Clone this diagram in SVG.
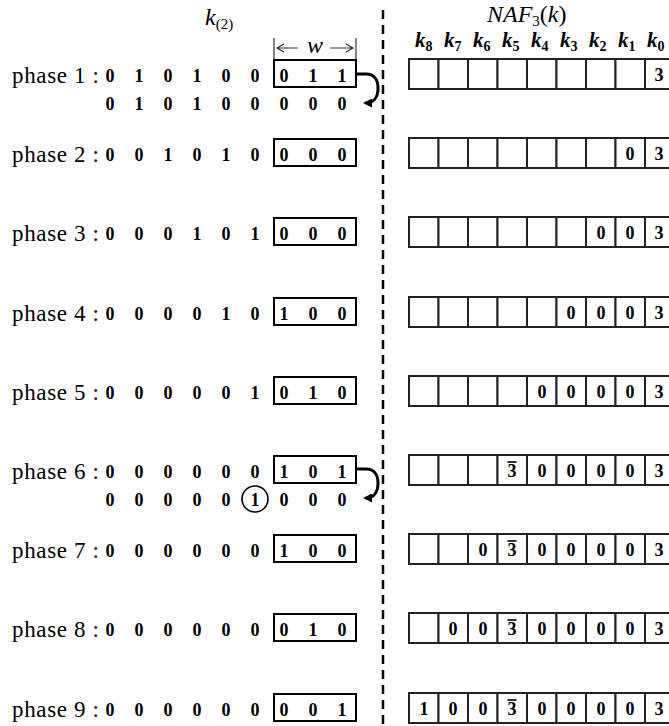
<svg xmlns="http://www.w3.org/2000/svg" width="669" height="726" viewBox="0 0 669 726">
<style>
.lbl{font-family:"Liberation Serif","Times New Roman",serif;font-size:23px;fill:#000}
.d{font-family:"Liberation Serif","Times New Roman",serif;font-size:18px;font-weight:bold;fill:#000;text-anchor:middle}
.box{fill:none;stroke:#000;stroke-width:2}
.cell{fill:#fff;stroke:#222;stroke-width:2}
.kl{font-family:"Liberation Serif","Times New Roman",serif;font-size:21px;font-weight:bold;font-style:italic;fill:#000}
.ks{font-size:14px;font-style:normal}
.hdr{font-family:"Liberation Serif","Times New Roman",serif;font-size:24px;font-style:italic;fill:#000}
.bar{stroke:#000;stroke-width:1.6}
.thin{stroke:#333;stroke-width:1.2;fill:none}
</style>
<defs>
<marker id="ah" markerWidth="3" markerHeight="3" refX="4" refY="3" orient="auto" markerUnits="strokeWidth" viewBox="0 0 6 6">
<path d="M0,0 L6,3 L0,6 z" fill="#000"/>
</marker>
</defs>
<rect width="669" height="726" fill="#fff"/>

<g id="headers">
<text class="hdr" x="205" y="25">k<tspan font-size="15" font-style="normal" dy="4">(2)</tspan></text>
<text class="hdr" x="487" y="22" font-size="23">NAF<tspan font-size="15" font-style="normal" dy="4">3</tspan><tspan dy="-4" font-style="normal">(</tspan>k<tspan font-style="normal">)</tspan></text>
<g id="klabels">
<text class="kl" x="415" y="47">k<tspan class="ks" dy="4">8</tspan></text>
<text class="kl" x="444" y="47">k<tspan class="ks" dy="4">7</tspan></text>
<text class="kl" x="473" y="47">k<tspan class="ks" dy="4">6</tspan></text>
<text class="kl" x="502" y="47">k<tspan class="ks" dy="4">5</tspan></text>
<text class="kl" x="531" y="47">k<tspan class="ks" dy="4">4</tspan></text>
<text class="kl" x="560" y="47">k<tspan class="ks" dy="4">3</tspan></text>
<text class="kl" x="589" y="47">k<tspan class="ks" dy="4">2</tspan></text>
<text class="kl" x="618" y="47">k<tspan class="ks" dy="4">1</tspan></text>
<text class="kl" x="647" y="47">k<tspan class="ks" dy="4">0</tspan></text>
</g>
<g id="wbracket">
<line class="thin" x1="274" y1="38" x2="274" y2="60" stroke="#777"/>
<line class="thin" x1="356" y1="38" x2="356" y2="60" stroke="#777"/>
<path class="thin" d="M298,48 H277 M284,44 L277,48 L284,52"/>
<path class="thin" d="M330,48 H353 M346,44 L353,48 L346,52"/>
<text class="hdr" x="315" y="53" font-size="20" text-anchor="middle">w</text>
</g>
</g>

<g id="divider">
<line x1="383" y1="10" x2="383" y2="726" stroke="#000" stroke-width="2.5" stroke-dasharray="9 6"/>
</g>

<g id="phase1">
<text class="lbl" x="12" y="83" textLength="87">phase 1 :</text>
<text class="d" y="82"><tspan x="110">0</tspan><tspan x="139">1</tspan><tspan x="168">0</tspan><tspan x="197">1</tspan><tspan x="226">0</tspan><tspan x="255">0</tspan><tspan x="284">0</tspan><tspan x="313">1</tspan><tspan x="342">1</tspan></text>
<rect class="box" x="274" y="60" width="82" height="27"/>
<text class="d" y="110"><tspan x="110">0</tspan><tspan x="139">1</tspan><tspan x="168">0</tspan><tspan x="197">1</tspan><tspan x="226">0</tspan><tspan x="255">0</tspan><tspan x="284">0</tspan><tspan x="313">0</tspan><tspan x="342">0</tspan></text>
</g>

<g id="phase2">
<text class="lbl" x="12" y="162" textLength="87">phase 2 :</text>
<text class="d" y="161"><tspan x="110">0</tspan><tspan x="139">0</tspan><tspan x="168">1</tspan><tspan x="197">0</tspan><tspan x="226">1</tspan><tspan x="255">0</tspan><tspan x="284">0</tspan><tspan x="313">0</tspan><tspan x="342">0</tspan></text>
<rect class="box" x="274" y="139" width="82" height="27"/>
</g>

<g id="phase3">
<text class="lbl" x="12" y="241" textLength="87">phase 3 :</text>
<text class="d" y="240"><tspan x="110">0</tspan><tspan x="139">0</tspan><tspan x="168">0</tspan><tspan x="197">1</tspan><tspan x="226">0</tspan><tspan x="255">1</tspan><tspan x="284">0</tspan><tspan x="313">0</tspan><tspan x="342">0</tspan></text>
<rect class="box" x="274" y="218" width="82" height="27"/>
</g>

<g id="phase4">
<text class="lbl" x="12" y="321" textLength="87">phase 4 :</text>
<text class="d" y="320"><tspan x="110">0</tspan><tspan x="139">0</tspan><tspan x="168">0</tspan><tspan x="197">0</tspan><tspan x="226">1</tspan><tspan x="255">0</tspan><tspan x="284">1</tspan><tspan x="313">0</tspan><tspan x="342">0</tspan></text>
<rect class="box" x="274" y="298" width="82" height="27"/>
</g>

<g id="phase5">
<text class="lbl" x="12" y="400" textLength="87">phase 5 :</text>
<text class="d" y="399"><tspan x="110">0</tspan><tspan x="139">0</tspan><tspan x="168">0</tspan><tspan x="197">0</tspan><tspan x="226">0</tspan><tspan x="255">1</tspan><tspan x="284">0</tspan><tspan x="313">1</tspan><tspan x="342">0</tspan></text>
<rect class="box" x="274" y="377" width="82" height="27"/>
</g>

<g id="phase6">
<text class="lbl" x="12" y="479" textLength="87">phase 6 :</text>
<text class="d" y="478"><tspan x="110">0</tspan><tspan x="139">0</tspan><tspan x="168">0</tspan><tspan x="197">0</tspan><tspan x="226">0</tspan><tspan x="255">0</tspan><tspan x="284">1</tspan><tspan x="313">0</tspan><tspan x="342">1</tspan></text>
<rect class="box" x="274" y="456" width="82" height="27"/>
<text class="d" y="506"><tspan x="110">0</tspan><tspan x="139">0</tspan><tspan x="168">0</tspan><tspan x="197">0</tspan><tspan x="226">0</tspan><tspan x="255">1</tspan><tspan x="284">0</tspan><tspan x="313">0</tspan><tspan x="342">0</tspan></text>
<circle cx="255" cy="499" r="13" fill="none" stroke="#000" stroke-width="1.6"/>
</g>

<g id="phase7">
<text class="lbl" x="12" y="558" textLength="87">phase 7 :</text>
<text class="d" y="557"><tspan x="110">0</tspan><tspan x="139">0</tspan><tspan x="168">0</tspan><tspan x="197">0</tspan><tspan x="226">0</tspan><tspan x="255">0</tspan><tspan x="284">1</tspan><tspan x="313">0</tspan><tspan x="342">0</tspan></text>
<rect class="box" x="274" y="535" width="82" height="27"/>
</g>

<g id="phase8">
<text class="lbl" x="12" y="637" textLength="87">phase 8 :</text>
<text class="d" y="636"><tspan x="110">0</tspan><tspan x="139">0</tspan><tspan x="168">0</tspan><tspan x="197">0</tspan><tspan x="226">0</tspan><tspan x="255">0</tspan><tspan x="284">0</tspan><tspan x="313">1</tspan><tspan x="342">0</tspan></text>
<rect class="box" x="274" y="614" width="82" height="27"/>
</g>

<g id="phase9">
<text class="lbl" x="12" y="717" textLength="87">phase 9 :</text>
<text class="d" y="716"><tspan x="110">0</tspan><tspan x="139">0</tspan><tspan x="168">0</tspan><tspan x="197">0</tspan><tspan x="226">0</tspan><tspan x="255">0</tspan><tspan x="284">0</tspan><tspan x="313">0</tspan><tspan x="342">1</tspan></text>
<rect class="box" x="274" y="694" width="82" height="27"/>
</g>

<g id="naf1">
<rect class="cell" x="409" y="59" width="29.5" height="30"/><rect class="cell" x="438.5" y="59" width="29.5" height="30"/><rect class="cell" x="468" y="59" width="29.5" height="30"/><rect class="cell" x="497.5" y="59" width="29.5" height="30"/><rect class="cell" x="527" y="59" width="29.5" height="30"/><rect class="cell" x="556.5" y="59" width="29.5" height="30"/><rect class="cell" x="586" y="59" width="29.5" height="30"/><rect class="cell" x="615.5" y="59" width="29.5" height="30"/><rect class="cell" x="645" y="59" width="29.5" height="30"/>
<text class="d" y="81"><tspan x="659">3</tspan></text>
</g>
<g id="naf2">
<rect class="cell" x="409" y="138" width="29.5" height="30"/><rect class="cell" x="438.5" y="138" width="29.5" height="30"/><rect class="cell" x="468" y="138" width="29.5" height="30"/><rect class="cell" x="497.5" y="138" width="29.5" height="30"/><rect class="cell" x="527" y="138" width="29.5" height="30"/><rect class="cell" x="556.5" y="138" width="29.5" height="30"/><rect class="cell" x="586" y="138" width="29.5" height="30"/><rect class="cell" x="615.5" y="138" width="29.5" height="30"/><rect class="cell" x="645" y="138" width="29.5" height="30"/>
<text class="d" y="160"><tspan x="630">0</tspan><tspan x="659">3</tspan></text>
</g>
<g id="naf3">
<rect class="cell" x="409" y="217" width="29.5" height="30"/><rect class="cell" x="438.5" y="217" width="29.5" height="30"/><rect class="cell" x="468" y="217" width="29.5" height="30"/><rect class="cell" x="497.5" y="217" width="29.5" height="30"/><rect class="cell" x="527" y="217" width="29.5" height="30"/><rect class="cell" x="556.5" y="217" width="29.5" height="30"/><rect class="cell" x="586" y="217" width="29.5" height="30"/><rect class="cell" x="615.5" y="217" width="29.5" height="30"/><rect class="cell" x="645" y="217" width="29.5" height="30"/>
<text class="d" y="239"><tspan x="601">0</tspan><tspan x="630">0</tspan><tspan x="659">3</tspan></text>
</g>
<g id="naf4">
<rect class="cell" x="409" y="297" width="29.5" height="30"/><rect class="cell" x="438.5" y="297" width="29.5" height="30"/><rect class="cell" x="468" y="297" width="29.5" height="30"/><rect class="cell" x="497.5" y="297" width="29.5" height="30"/><rect class="cell" x="527" y="297" width="29.5" height="30"/><rect class="cell" x="556.5" y="297" width="29.5" height="30"/><rect class="cell" x="586" y="297" width="29.5" height="30"/><rect class="cell" x="615.5" y="297" width="29.5" height="30"/><rect class="cell" x="645" y="297" width="29.5" height="30"/>
<text class="d" y="319"><tspan x="571">0</tspan><tspan x="601">0</tspan><tspan x="630">0</tspan><tspan x="659">3</tspan></text>
</g>
<g id="naf5">
<rect class="cell" x="409" y="376" width="29.5" height="30"/><rect class="cell" x="438.5" y="376" width="29.5" height="30"/><rect class="cell" x="468" y="376" width="29.5" height="30"/><rect class="cell" x="497.5" y="376" width="29.5" height="30"/><rect class="cell" x="527" y="376" width="29.5" height="30"/><rect class="cell" x="556.5" y="376" width="29.5" height="30"/><rect class="cell" x="586" y="376" width="29.5" height="30"/><rect class="cell" x="615.5" y="376" width="29.5" height="30"/><rect class="cell" x="645" y="376" width="29.5" height="30"/>
<text class="d" y="398"><tspan x="542">0</tspan><tspan x="571">0</tspan><tspan x="601">0</tspan><tspan x="630">0</tspan><tspan x="659">3</tspan></text>
</g>
<g id="naf6">
<rect class="cell" x="409" y="455" width="29.5" height="30"/><rect class="cell" x="438.5" y="455" width="29.5" height="30"/><rect class="cell" x="468" y="455" width="29.5" height="30"/><rect class="cell" x="497.5" y="455" width="29.5" height="30"/><rect class="cell" x="527" y="455" width="29.5" height="30"/><rect class="cell" x="556.5" y="455" width="29.5" height="30"/><rect class="cell" x="586" y="455" width="29.5" height="30"/><rect class="cell" x="615.5" y="455" width="29.5" height="30"/><rect class="cell" x="645" y="455" width="29.5" height="30"/>
<text class="d" y="477"><tspan x="512">3</tspan><tspan x="542">0</tspan><tspan x="571">0</tspan><tspan x="601">0</tspan><tspan x="630">0</tspan><tspan x="659">3</tspan></text>
<line class="bar" x1="507.5" y1="462" x2="516.5" y2="462"/>
</g>
<g id="naf7">
<rect class="cell" x="409" y="534" width="29.5" height="30"/><rect class="cell" x="438.5" y="534" width="29.5" height="30"/><rect class="cell" x="468" y="534" width="29.5" height="30"/><rect class="cell" x="497.5" y="534" width="29.5" height="30"/><rect class="cell" x="527" y="534" width="29.5" height="30"/><rect class="cell" x="556.5" y="534" width="29.5" height="30"/><rect class="cell" x="586" y="534" width="29.5" height="30"/><rect class="cell" x="615.5" y="534" width="29.5" height="30"/><rect class="cell" x="645" y="534" width="29.5" height="30"/>
<text class="d" y="556"><tspan x="483">0</tspan><tspan x="512">3</tspan><tspan x="542">0</tspan><tspan x="571">0</tspan><tspan x="601">0</tspan><tspan x="630">0</tspan><tspan x="659">3</tspan></text>
<line class="bar" x1="507.5" y1="541" x2="516.5" y2="541"/>
</g>
<g id="naf8">
<rect class="cell" x="409" y="613" width="29.5" height="30"/><rect class="cell" x="438.5" y="613" width="29.5" height="30"/><rect class="cell" x="468" y="613" width="29.5" height="30"/><rect class="cell" x="497.5" y="613" width="29.5" height="30"/><rect class="cell" x="527" y="613" width="29.5" height="30"/><rect class="cell" x="556.5" y="613" width="29.5" height="30"/><rect class="cell" x="586" y="613" width="29.5" height="30"/><rect class="cell" x="615.5" y="613" width="29.5" height="30"/><rect class="cell" x="645" y="613" width="29.5" height="30"/>
<text class="d" y="635"><tspan x="453">0</tspan><tspan x="483">0</tspan><tspan x="512">3</tspan><tspan x="542">0</tspan><tspan x="571">0</tspan><tspan x="601">0</tspan><tspan x="630">0</tspan><tspan x="659">3</tspan></text>
<line class="bar" x1="507.5" y1="620" x2="516.5" y2="620"/>
</g>
<g id="naf9">
<rect class="cell" x="409" y="693" width="29.5" height="30"/><rect class="cell" x="438.5" y="693" width="29.5" height="30"/><rect class="cell" x="468" y="693" width="29.5" height="30"/><rect class="cell" x="497.5" y="693" width="29.5" height="30"/><rect class="cell" x="527" y="693" width="29.5" height="30"/><rect class="cell" x="556.5" y="693" width="29.5" height="30"/><rect class="cell" x="586" y="693" width="29.5" height="30"/><rect class="cell" x="615.5" y="693" width="29.5" height="30"/><rect class="cell" x="645" y="693" width="29.5" height="30"/>
<text class="d" y="715"><tspan x="424">1</tspan><tspan x="453">0</tspan><tspan x="483">0</tspan><tspan x="512">3</tspan><tspan x="542">0</tspan><tspan x="571">0</tspan><tspan x="601">0</tspan><tspan x="630">0</tspan><tspan x="659">3</tspan></text>
<line class="bar" x1="507.5" y1="700" x2="516.5" y2="700"/>
</g>

<g id="connectors" fill="none" stroke="#000" stroke-width="3">
<path d="M357,74 H366 C375,74 378,81 378,88 C378,97 374,103 366,103" marker-end="url(#ah)"/>
<path d="M357,469 H366 C375,469 378,476 378,483 C378,492 374,498 366,498" marker-end="url(#ah)"/>
</g>
</svg>
